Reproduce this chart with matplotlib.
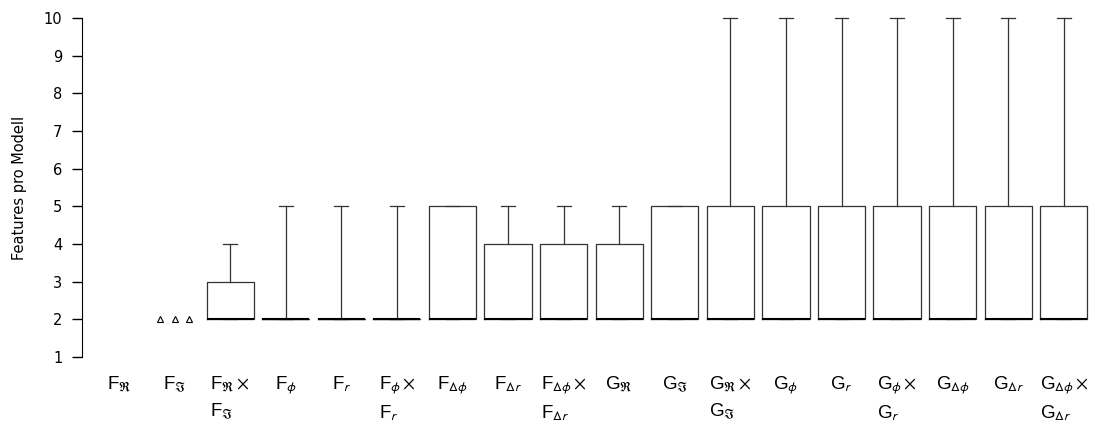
import matplotlib
matplotlib.use("Agg")
import matplotlib.pyplot as plt
from matplotlib.transforms import blended_transform_factory

plt.rcParams["mathtext.fontset"] = "stixsans"

labels = [
    "F$_{\\mathfrak{R}}$", "F$_{\\mathfrak{I}}$", "F$_{\\mathfrak{R}}\\times$\nF$_{\\mathfrak{I}}$",
    "F$_{\\phi}$", "F$_{r}$", "F$_{\\phi}\\times$\nF$_{r}$", "F$_{\\Delta\\phi}$", "F$_{\\Delta r}$",
    "F$_{\\Delta\\phi}\\times$\nF$_{\\Delta r}$", "G$_{\\mathfrak{R}}$", "G$_{\\mathfrak{I}}$",
    "G$_{\\mathfrak{R}}\\times$\nG$_{\\mathfrak{I}}$", "G$_{\\phi}$", "G$_{r}$",
    "G$_{\\phi}\\times$\nG$_{r}$", "G$_{\\Delta\\phi}$", "G$_{\\Delta r}$",
    "G$_{\\Delta\\phi}\\times$\nG$_{\\Delta r}$",
]
# box statistics per category (None = no box drawn)
q1     = [None, None, 2, 2, 2, 2, 2, 2, 2, 2, 2, 2, 2, 2, 2, 2, 2, 2]
median = [None, None, 2, 2, 2, 2, 2, 2, 2, 2, 2, 2, 2, 2, 2, 2, 2, 2]
q3     = [None, None, 3, 2, 2, 2, 5, 4, 4, 4, 5, 5, 5, 5, 5, 5, 5, 5]
whislo = [None, None, 2, 2, 2, 2, 2, 2, 2, 2, 2, 2, 2, 2, 2, 2, 2, 2]
whishi = [None, None, 4, 5, 5, 5, 5, 5, 5, 5, 5, 10, 10, 10, 10, 10, 10, 10]
# outlier points for F_Im (drawn side by side)
outlier_cat = 2
outlier_vals = [2, 2, 2]

fig = plt.figure(figsize=(11.03, 4.23), dpi=100)
ax = fig.add_axes([82/1103, 66/423, (1100-82)/1103, 339/423])

stats, pos = [], []
for i in range(len(labels)):
    if q1[i] is None:
        continue
    stats.append(dict(med=median[i], q1=q1[i], q3=q3[i],
                      whislo=whislo[i], whishi=whishi[i], fliers=[]))
    pos.append(i + 1)

lc = "#333333"
ax.bxp(stats, positions=pos, widths=0.85, capwidths=0.25, showfliers=False,
       boxprops=dict(color=lc, linewidth=0.9),
       whiskerprops=dict(color=lc, linewidth=0.9),
       capprops=dict(color=lc, linewidth=0.9),
       medianprops=dict(color="black", linewidth=1.5),
       manage_ticks=False)

offs = [-0.26, 0.0, 0.26]
for o, v in zip(offs, outlier_vals):
    ax.plot(outlier_cat + o, v, marker="^", ms=4, mfc="white", mec="black",
            mew=0.8, linestyle="none")

ax.set_xlim(0.335, 18.65)
ax.set_ylim(1, 10)
ax.set_yticks(range(1, 11))
ax.tick_params(axis="y", labelsize=10.5, length=7, pad=7, width=1)
ax.spines[["top", "right", "bottom"]].set_visible(False)
ax.spines["left"].set_bounds(1, 10)
ax.set_xticks([])
ax.set_ylabel("Features pro Modell", fontsize=10.5, labelpad=12)
for art in ax.get_children():
    try:
        art.set_clip_on(False)
    except Exception:
        pass

tr = blended_transform_factory(ax.transData, ax.transAxes)
for i, lab in enumerate(labels):
    ax.text(i + 1, -0.052, lab, transform=tr, ha="center", va="top",
            multialignment="left", fontsize=13.5, family="Liberation Sans",
            linespacing=1.45)

fig.savefig("out.png", dpi=100)
